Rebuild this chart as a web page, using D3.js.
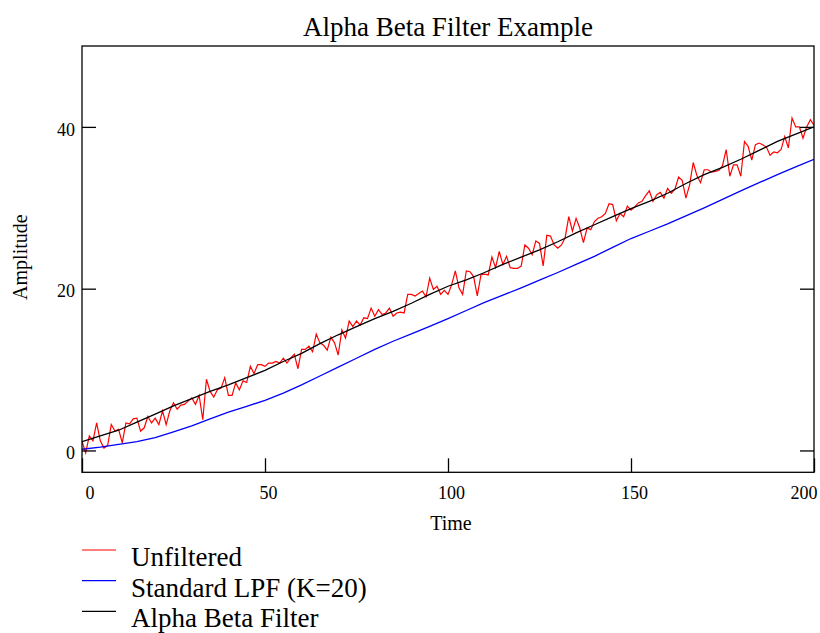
<!DOCTYPE html>
<html>
<head>
<meta charset="utf-8">
<script src="https://cdn.jsdelivr.net/npm/d3@7"></script>
<style>
  html, body { margin: 0; padding: 0; background: #fff; }
  svg { display: block; }
  text { font-family: "Liberation Serif", "Times New Roman", serif; fill: #000; }
</style>
</head>
<body>
<div id="chart"></div>
<script>
// ---- data ----
// unfiltered samples, one per time step (t = 0..200)
const unfiltered = [
  1.15, -0.3, 1.8, 1.2, 3.4, 1.2, 0.3, 0.6, 3.2, 2.4,
  2.6, 0.95, 3.4, 3.3, 3.9, 4.0, 2.4, 2.8, 4.2, 3.4,
  4.0, 3.2, 4.9, 3.2, 4.9, 5.9, 5.1, 5.6, 5.7, 6.1,
  6.5, 5.7, 6.8, 3.8, 8.8, 7.3, 6.6, 7.5, 7.7, 9.0,
  6.8, 6.8, 8.35, 7.5, 8.6, 8.4, 10.4, 9.5, 10.6, 10.6,
  10.4, 10.8, 10.8, 11.0, 10.8, 11.4, 10.8, 11.4, 11.9, 10.1,
  12.5, 12.5, 12.9, 12.2, 14.4, 13.3, 13.0, 12.4, 14.0, 13.3,
  11.8, 14.9, 13.9, 16.0, 15.3, 16.0, 15.5, 16.4, 16.3, 17.6,
  16.6, 17.4, 16.8, 17.0, 17.6, 16.6, 17.0, 17.1, 17.0, 19.3,
  19.3, 19.1, 19.4, 19.7, 19.0, 21.3, 19.9, 20.3, 19.3, 19.8,
  19.3, 20.5, 22.2, 20.1, 19.3, 22.2, 22.1, 21.5, 19.1, 21.7,
  21.8, 21.7, 23.9, 22.6, 24.6, 23.0, 24.0, 22.6, 22.5, 22.5,
  22.8, 25.4, 25.0, 24.2, 25.9, 25.6, 22.8, 26.6, 26.5, 25.4,
  25.0, 25.4, 26.3, 28.9, 27.1, 28.7, 27.5, 25.7, 27.5, 27.3,
  28.3, 28.7, 28.9, 29.3, 30.5, 30.4, 28.4, 29.3, 28.9, 30.2,
  29.7, 30.1, 30.6, 30.8, 31.5, 32.1, 30.8, 31.6, 31.9, 31.2,
  32.4, 31.8, 32.3, 33.8, 33.4, 31.2, 32.8, 35.6, 34.0, 33.1,
  34.7, 34.7, 34.4, 34.5, 34.6, 35.2, 37.2, 33.9, 35.3, 35.3,
  33.9, 38.2, 37.6, 35.9, 37.8, 38.0, 37.8, 37.5, 36.5, 36.9,
  36.8, 37.2, 38.8, 37.4, 41.1, 40.0, 40.0, 38.6, 40.0, 40.9,
  40.2
];

// filtered curves are smooth, read every 5 time units
const filterTimes = [0, 5, 10, 15, 20, 25, 30, 35, 40, 45, 50,
                     55, 60, 65, 70, 75, 80, 85, 90, 95, 100,
                     105, 110, 115, 120, 125, 130, 135, 140, 145, 150,
                     155, 160, 165, 170, 175, 180, 185, 190, 195, 200];
const lpfValues = [0.15, 0.4, 0.75, 1.1, 1.6, 2.3, 3.05, 3.9, 4.75, 5.45, 6.2,
                   7.1, 8.1, 9.2, 10.3, 11.4, 12.5, 13.5, 14.4, 15.35, 16.3,
                   17.3, 18.3, 19.2, 20.1, 21.05, 22.0, 23.0, 24.0, 25.1, 26.2,
                   27.1, 28.0, 29.0, 30.0, 31.05, 32.1, 33.1, 34.1, 35.05, 36.0];
const alphaBetaValues = [1.1, 1.8, 2.5, 3.5, 4.5, 5.5, 6.4, 7.3, 8.1, 9.0, 9.9,
                         11.0, 12.0, 13.2, 14.3, 15.3, 16.3, 17.2, 18.2, 19.3, 20.3,
                         21.1, 22.0, 23.0, 23.9, 24.8, 25.8, 26.9, 27.9, 28.9, 29.9,
                         30.8, 31.8, 33.0, 34.1, 35.0, 36.0, 37.1, 38.2, 39.1, 40.0];

const xTicks = [0, 50, 100, 150, 200];
const yTicks = [0, 20, 40];

const legendNames = ["Unfiltered", "Standard LPF (K=20)", "Alpha Beta Filter"];
const legendColors = ["#ff0000", "#0000ff", "#000000"];

// ---- layout ----
const width = 820, height = 633;
const plot = { left: 82, right: 814, top: 46, bottom: 472.3 };

const svg = d3.select("#chart").append("svg")
  .attr("width", width)
  .attr("height", height);

svg.append("rect").attr("width", width).attr("height", height).attr("fill", "#fff");

const x = d3.scaleLinear().domain([0, 200]).range([plot.left, plot.right]);
const y = d3.scaleLinear().domain([-2.7, 50]).range([plot.bottom, plot.top]);

// clip so lines stay inside the box
svg.append("clipPath").attr("id", "plotclip")
  .append("rect")
  .attr("x", plot.left).attr("y", plot.top)
  .attr("width", plot.right - plot.left).attr("height", plot.bottom - plot.top);

const lines = svg.append("g").attr("clip-path", "url(#plotclip)");

const line = d3.line().x(d => x(d[0])).y(d => y(d[1]));

// red: raw samples
lines.append("path")
  .datum(unfiltered.map((v, i) => [i, v]))
  .attr("fill", "none")
  .attr("stroke", legendColors[0])
  .attr("stroke-width", 1.2)
  .attr("d", line);

// blue: low pass filter
lines.append("path")
  .datum(filterTimes.map((t, i) => [t, lpfValues[i]]))
  .attr("fill", "none")
  .attr("stroke", legendColors[1])
  .attr("stroke-width", 1.3)
  .attr("d", line);

// black: alpha beta filter
lines.append("path")
  .datum(filterTimes.map((t, i) => [t, alphaBetaValues[i]]))
  .attr("fill", "none")
  .attr("stroke", legendColors[2])
  .attr("stroke-width", 1.3)
  .attr("d", line);

// ---- axes: ticks point inward ----
const xAxis = svg.append("g")
  .attr("transform", `translate(0,${plot.bottom})`)
  .call(d3.axisBottom(x).tickValues(xTicks).tickSizeInner(-14).tickSizeOuter(0).tickPadding(14));

xAxis.selectAll("text")
  .attr("font-size", 18)
  .attr("dx", 3)
  .attr("text-anchor", (d, i) => i === 0 ? "start" : (i === xTicks.length - 1 ? "end" : "middle"));

const yAxis = svg.append("g")
  .attr("transform", `translate(${plot.left},0)`)
  .call(d3.axisLeft(y).tickValues(yTicks).tickSizeInner(-14).tickSizeOuter(0).tickPadding(7));

yAxis.selectAll("text").attr("font-size", 18).attr("dy", "0.46em");

svg.append("g")
  .attr("transform", `translate(${plot.right},0)`)
  .call(d3.axisRight(y).tickValues(yTicks).tickSizeInner(-14).tickSizeOuter(0).tickFormat(""));

svg.selectAll(".domain").remove();
svg.selectAll(".tick line").attr("stroke", "#000").attr("stroke-width", 1.3);

// frame
svg.append("rect")
  .attr("x", plot.left).attr("y", plot.top)
  .attr("width", plot.right - plot.left).attr("height", plot.bottom - plot.top)
  .attr("fill", "none")
  .attr("stroke", "#000")
  .attr("stroke-width", 1.3);

// ---- titles ----
svg.append("text")
  .attr("x", (plot.left + plot.right) / 2).attr("y", 36)
  .attr("text-anchor", "middle")
  .attr("font-size", 27)
  .text("Alpha Beta Filter Example");

svg.append("text")
  .attr("x", (plot.left + plot.right) / 2 + 3).attr("y", 530)
  .attr("text-anchor", "middle")
  .attr("font-size", 20)
  .text("Time");

svg.append("text")
  .attr("transform", `translate(27,${(plot.top + plot.bottom) / 2 - 2}) rotate(-90)`)
  .attr("text-anchor", "middle")
  .attr("font-size", 20)
  .text("Amplitude");

// ---- legend below the chart ----
const legend = svg.append("g");
legendNames.forEach((name, i) => {
  const base = 566 + i * 30.7;
  legend.append("line")
    .attr("x1", 82).attr("x2", 116)
    .attr("y1", base - 16).attr("y2", base - 16)
    .attr("stroke", legendColors[i])
    .attr("stroke-width", 1.2);
  legend.append("text")
    .attr("x", 131).attr("y", base)
    .attr("font-size", 27)
    .text(name);
});
</script>
</body>
</html>
